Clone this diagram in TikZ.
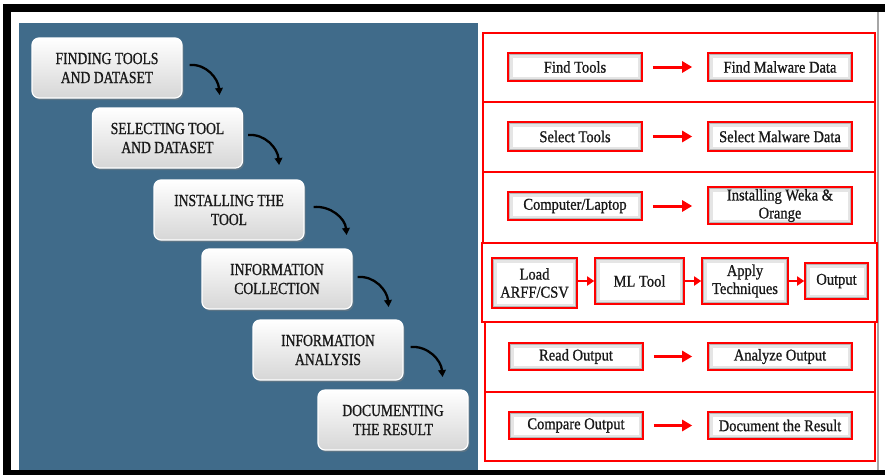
\documentclass[tikz,border=0pt]{standalone}
\usepackage{fontspec}
\setmainfont{Liberation Serif}
\newfontfamily\capfont{Liberation Serif}[FakeStretch=0.80,FakeBold=0.9]
\newfontfamily\boxfont{Liberation Serif}[FakeStretch=0.88,FakeBold=0.9]
\usetikzlibrary{arrows.meta,calc,shadows}
\definecolor{panelblue}{RGB}{64,107,138}
\definecolor{txt}{RGB}{25,25,25}
\tikzset{
  lbox/.style={rounded corners=7pt, minimum width=150pt, minimum height=60pt,
    inner sep=0pt, align=center, text=txt,
    font=\capfont\fontsize{17}{19}\selectfont,
    top color=white, bottom color=black!16, draw=white, line width=1.2pt,
    drop shadow={opacity=0.45, shadow xshift=1.5pt, shadow yshift=-2pt}},
  rbox/.style={draw=red, line width=1.6pt, fill=white, inner sep=0pt,
    align=center, text=txt, font=\boxfont\fontsize{16.5}{18}\selectfont,
    path picture={
      \draw[black!10,line width=9pt] (path picture bounding box.south west) rectangle (path picture bounding box.north east);
      \draw[black!28,line width=3.5pt] (path picture bounding box.south west) rectangle (path picture bounding box.north east);}},
  rarrow/.style={draw=red, line width=3pt, -{Triangle[length=10pt,width=11pt]},
    shorten <=10pt, shorten >=15pt},
  sarrow/.style={draw=red, line width=2.4pt, -{Triangle[length=7pt,width=9pt]}},
  carrow/.style={draw=black, line width=2.3pt, -{Triangle[length=7pt,width=7.5pt]}},
  sect/.style={draw=red, line width=1.3pt}
}
\begin{document}
\begin{tikzpicture}[x=1pt,y=-1pt]
\useasboundingbox (0,0) rectangle (885,475);
% frame
\fill[white] (0,0) rectangle (885,475);
\draw[black!35, line width=1.5pt] (878,12) -- (878,470);
\fill[black] (3,4) rectangle (885,12);
\fill[black] (3,4) rectangle (11,475);
\fill[black] (3,470) rectangle (885,475);
% left panel
\fill[panelblue] (19,23) rectangle (478,470);

\node[lbox] (b1) at (107,68)    {FINDING TOOLS\\AND DATASET};
\node[lbox] (b2) at (167.5,138) {SELECTING TOOL\\AND DATASET};
\node[lbox] (b3) at (229,210)   {INSTALLING THE\\TOOL};
\node[lbox] (b4) at (277,279)   {INFORMATION\\COLLECTION};
\node[lbox] (b5) at (328,350)   {INFORMATION\\ANALYSIS};
\node[lbox] (b6) at (393,420)   {DOCUMENTING\\THE RESULT};

\draw[carrow] ($(b1.east)+(7,-3)$) to[out=5,in=95] ($(b1.east)+(37,27)$);
\draw[carrow] ($(b2.east)+(5,-3)$) to[out=5,in=95] ($(b2.east)+(36,27)$);
\draw[carrow] ($(b3.east)+(9,-3)$) to[out=5,in=95] ($(b3.east)+(42,25)$);
\draw[carrow] ($(b4.east)+(5,-2)$) to[out=5,in=95] ($(b4.east)+(36,28)$);
\draw[carrow] ($(b5.east)+(7,-3)$) to[out=5,in=95] ($(b5.east)+(39,27)$);

% right sections
\draw[sect] (483,33) rectangle (875,102);
\draw[sect] (483,102) rectangle (875,172);
\draw[sect] (483,172) rectangle (875,243);
\draw[sect] (482,243) rectangle (877,322);
\draw[sect] (485,322) rectangle (875,392);
\draw[sect] (485,392) rectangle (875,461);

% row 1
\node[rbox, minimum width=134pt, minimum height=28pt] (l1) at (575,67) {Find Tools};
\node[rbox, minimum width=144pt, minimum height=28pt] (r1) at (780,67) {Find Malware Data};
\draw[rarrow] (l1.east) -- (r1.west);
% row 2
\node[rbox, minimum width=134pt, minimum height=29pt] (l2) at (575,136.5) {Select Tools};
\node[rbox, minimum width=144pt, minimum height=29pt] (r2) at (780,136.5) {Select Malware Data};
\draw[rarrow] (l2.east) -- (r2.west);
% row 3
\node[rbox, minimum width=134pt, minimum height=28pt] (l3) at (575,206) {Computer/Laptop};
\node[rbox, minimum width=144pt, minimum height=37pt] (r3) at (780,205.5) {Installing Weka \&\\Orange};
\draw[rarrow] (l3.east) -- (l3.east -| r3.west);
% row 4
\node[rbox, minimum width=85pt, minimum height=50pt] (ld) at (534.5,283) {Load\\ARFF/CSV};
\node[rbox, minimum width=89pt, minimum height=46pt] (ml) at (639.5,281) {ML Tool};
\node[rbox, minimum width=86pt, minimum height=46pt] (ap) at (745,281) {Apply\\Techniques};
\node[rbox, minimum width=63pt, minimum height=36pt] (op) at (836.5,281) {Output};
\draw[sarrow] (ld.east |- ml.west) -- (ml.west);
\draw[sarrow] (ml.east) -- (ap.west);
\draw[sarrow] (ap.east) -- (op.west);
% row 5
\node[rbox, minimum width=134pt, minimum height=27pt] (l5) at (576,356.5) {Read Output};
\node[rbox, minimum width=144pt, minimum height=27pt] (r5) at (780,356.5) {Analyze Output};
\draw[rarrow] (l5.east) -- (r5.west);
% row 6
\node[rbox, minimum width=134pt, minimum height=27pt] (l6) at (576,425.5) {Compare Output};
\node[rbox, minimum width=144pt, minimum height=27pt] (r6) at (780,425.5) {Document the Result};
\draw[rarrow] (l6.east) -- (r6.west);
\end{tikzpicture}
\end{document}
